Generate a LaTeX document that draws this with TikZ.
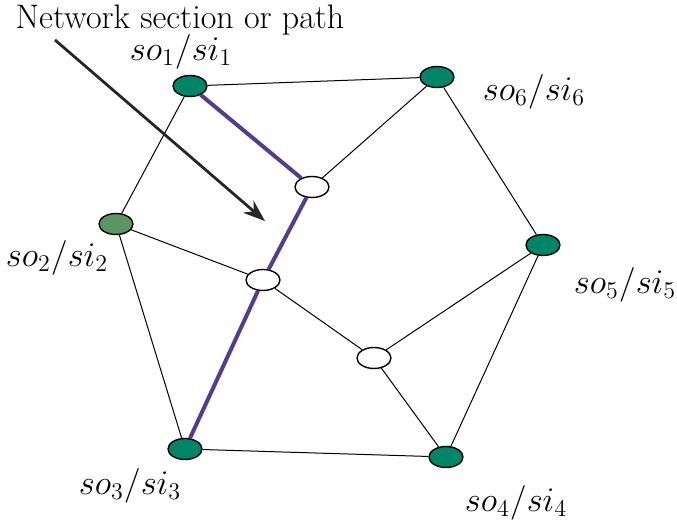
\documentclass[tikz,border=0pt]{standalone}
\usetikzlibrary{shapes.geometric,arrows.meta}
\definecolor{nodegreen}{RGB}{0,133,105}
\definecolor{nodeolive}{RGB}{92,150,96}
\definecolor{pathpurple}{RGB}{84,62,140}
\begin{document}
\begin{tikzpicture}[x=0.5pt,y=-0.5pt,
  vert/.style={ellipse,draw=black,line width=0.7pt,minimum width=17pt,minimum height=10.5pt,inner sep=0pt},
  gv/.style={vert,fill=nodegreen},
  ov/.style={vert,fill=nodeolive},
  wv/.style={vert,fill=white},
  edge/.style={line width=0.5pt},
  pathedge/.style={line width=2pt,pathpurple},
  lbl/.style={font=\fontsize{17}{20}\selectfont,inner sep=0pt}]
\useasboundingbox (0,0) rectangle (677,524);
\node[gv] (n1) at (190,86) {};
\node[gv] (n6) at (437,77) {};
\node[ov] (n2) at (116,224) {};
\node[gv] (n5) at (543,245) {};
\node[gv] (n3) at (185,449) {};
\node[gv] (n4) at (446,457) {};
\node[wv] (a) at (312,187) {};
\node[wv] (b) at (263,280) {};
\node[wv] (c) at (374,358) {};
\draw[edge] (n1) -- (n6);
\draw[edge] (n1) -- (n2);
\draw[edge] (a) -- (n6);
\draw[edge] (n6) -- (n5);
\draw[edge] (n2) -- (b);
\draw[edge] (n2) -- (n3);
\draw[edge] (n3) -- (n4);
\draw[edge] (n4) -- (n5);
\draw[edge] (n5) -- (c);
\draw[edge] (c) -- (n4);
\draw[edge] (b) -- (c);
\draw[pathedge] (n1) -- (a);
\draw[pathedge] (a) -- (b);
\draw[pathedge] (b) -- (n3);
\node[lbl] (t) at (180,20) {Network section or path};
\coordinate (as) at (55,40);
\coordinate (ae) at (265,221);
\draw[line width=1.4pt,black!85,-{Stealth[length=11pt,width=8pt]}] (as) -- (ae);
\node[lbl] (l1) at (181,52) {$so_1/si_1$};
\node[lbl] (l6) at (534,92) {$so_6/si_6$};
\node[lbl] (l2) at (57,258) {$so_2/si_2$};
\node[lbl] (l5) at (625,285) {$so_5/si_5$};
\node[lbl] (l3) at (130,486) {$so_3/si_3$};
\node[lbl] (l4) at (516,503) {$so_4/si_4$};
\end{tikzpicture}
\end{document}
